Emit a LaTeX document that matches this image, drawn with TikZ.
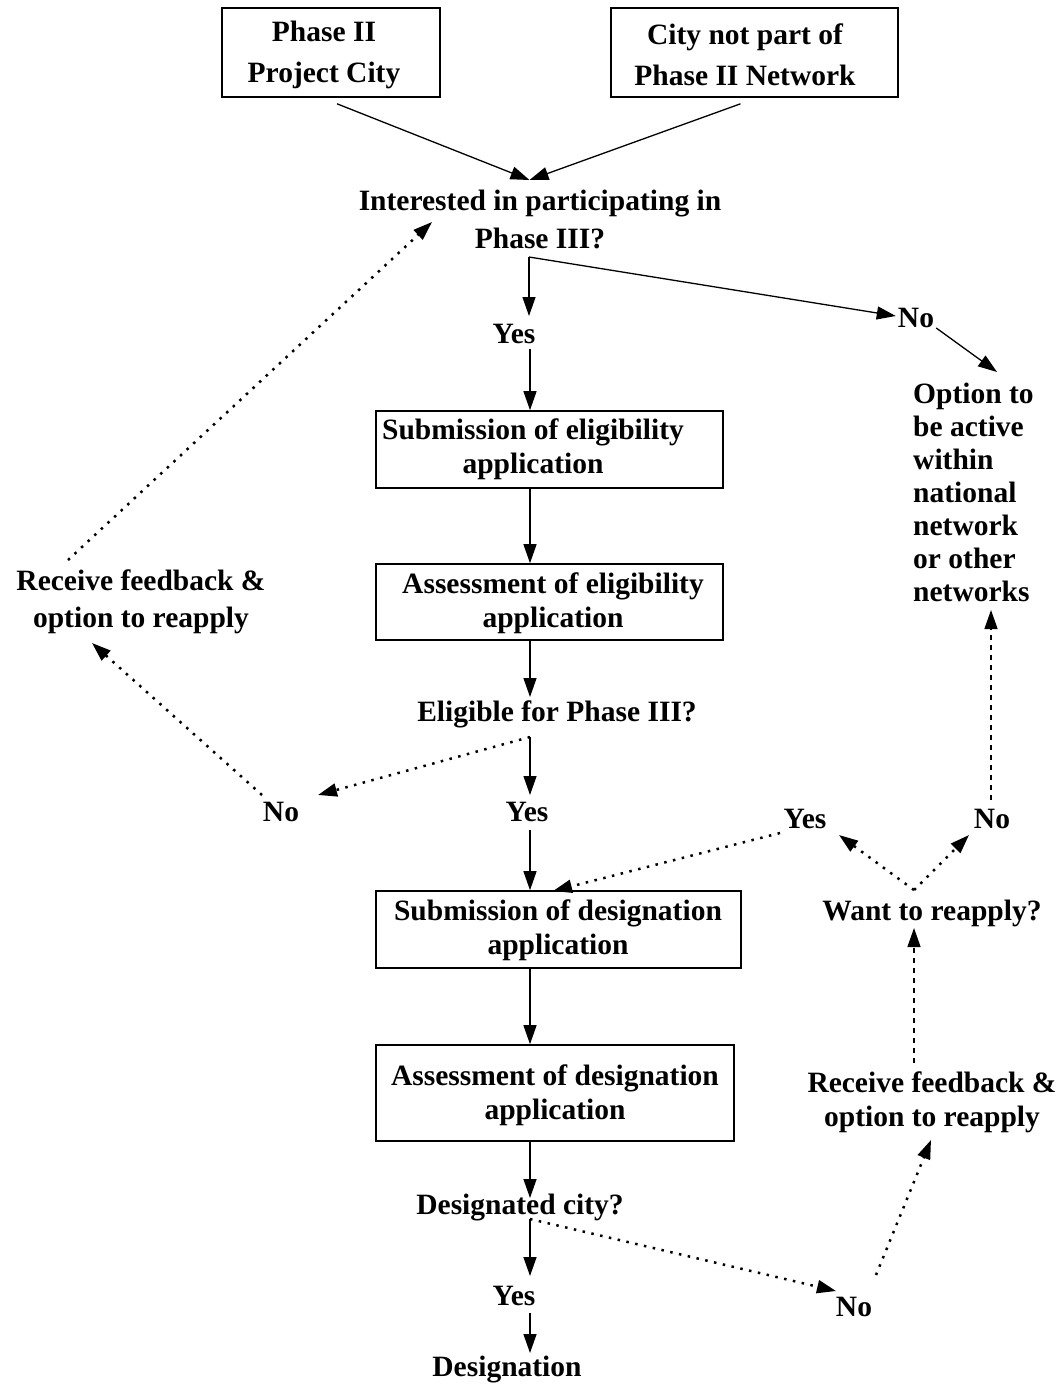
\documentclass[tikz,border=0pt]{standalone}
\usepackage{fontspec}
\setmainfont{Liberation Serif}
\usetikzlibrary{arrows.meta,calc}
\begin{document}
\begin{tikzpicture}[x=1pt,y=-1pt,
  tip/.style={-{Triangle[length=19pt,width=13pt]}},
  arr/.style={line width=1.3pt,tip},
  dotarr/.style={line width=2.5pt,dash pattern=on 2.5pt off 6.5pt,tip},
  dasharr/.style={line width=1.3pt,dash pattern=on 5pt off 5pt,tip},
  box/.style={draw,line width=1.6pt,inner sep=0pt,rectangle},
  txt/.style={inner sep=0pt,align=center,font=\fontsize{29.5}{34}\selectfont\bfseries},
]
\useasboundingbox (0,0) rectangle (1063,1386);
\fill[white] (0,0) rectangle (1063,1386);
\coordinate (mx) at (530,0);

% boxes
\node[box,minimum width=218pt,minimum height=89pt] (boxA) at (331,52.5) {};
\node[txt,font=\fontsize{29.5}{41}\selectfont\bfseries] (tA) at (324,55) {Phase II\\Project City};
\node[box,minimum width=287pt,minimum height=89pt] (boxB) at (754.5,52.5) {};
\node[txt,font=\fontsize{29.5}{41}\selectfont\bfseries] (tB) at (745,55) {City not part of\\Phase II Network};

\node[box,minimum width=347pt,minimum height=77pt] (box1) at (549.5,449.5) {};
\node[txt] (t1) at (533,449) {Submission of eligibility\\application};
\node[box,minimum width=347pt,minimum height=76pt] (box2) at (549.5,602) {};
\node[txt] (t2) at (553,603) {Assessment of eligibility\\application};
\node[box,minimum width=365pt,minimum height=77pt] (box3) at (558.5,929.5) {};
\node[txt] (t3) at (558,930) {Submission of designation\\application};
\node[box,minimum width=358pt,minimum height=96pt] (box4) at (555,1093) {};
\node[txt] (t4) at (555,1095) {Assessment of designation\\application};

% text nodes
\node[txt,font=\fontsize{29.5}{38}\selectfont\bfseries] (q1) at (540,219) {Interested in participating in\\Phase III?};
\node[txt] (yesA) at (514,334) {Yes};
\node[txt] (noA) at (916,318) {No};
\node[txt,align=left,anchor=west,font=\fontsize{29.5}{33}\selectfont\bfseries] (opt) at (913,492) {Option to\\be active\\within\\national\\network\\or other\\networks};
\node[txt,font=\fontsize{29.5}{37}\selectfont\bfseries] (recL) at (141,602) {Receive feedback \&\\option to reapply};
\node[txt] (elig) at (557,714) {Eligible for Phase III?};
\node[txt] (noB) at (281,812) {No};
\node[txt] (yesB) at (527,812) {Yes};
\node[txt] (yesC) at (805,819) {Yes};
\node[txt] (noC) at (992,819) {No};
\node[txt] (want) at (932,913) {Want to reapply?};
\node[txt] (recR) at (932,1102) {Receive feedback \&\\option to reapply};
\node[txt] (desq) at (520,1208) {Designated city?};
\node[txt] (yesD) at (514,1296) {Yes};
\node[txt] (noD) at (854,1307) {No};
\node[txt] (desig) at (507,1370) {Designation};

% junction coordinates
\coordinate (q1top) at (529.5,180);
\coordinate (j1) at (529,257);
\coordinate (j2) at (530,737);
\coordinate (j3) at (914,890);
\coordinate (j4) at (530,1219);

% solid connectors
\draw[arr] ($(boxA.south)+(6,6)$) -- (q1top);
\draw[arr] ($(boxB.south)+(-14,6)$) -- (q1top);
\draw[arr] (j1) -- (529,316) coordinate (yesAtip);
\draw[arr] (j1) -- ($(noA.west)+(-2,-2)$);
\draw[arr] ($(noA.south east)+(2,0)$) -- (997,372) coordinate (optTip);
\draw[arr] (yesA.south -| mx) ++(0,5) -- (box1.north -| mx);
\draw[arr] (box1.south -| mx) -- (box2.north -| mx);
\draw[arr] (box2.south -| mx) -- (530,697) coordinate (eligTip);
\draw[arr] (j2) -- (530,795) coordinate (yesBtip);
\draw[arr] (530,830) coordinate (yesBbot) -- (box3.north -| mx);
\draw[arr] (box3.south -| mx) -- (box4.north -| mx);
\draw[arr] (box4.south -| mx) -- (530,1198) coordinate (desqTip);
\draw[arr] (j4) -- (530,1276) coordinate (yesDtip);
\draw[arr] (530,1313) coordinate (yesDbot) -- (530,1353) coordinate (desigTip);

% dotted connectors
\draw[dotarr] (j2) -- (318,795) coordinate (noBtip);
\draw[dotarr] (262,795) coordinate (noBtop) -- (92,643) coordinate (recLtip);
\draw[dotarr] (68,560) coordinate (recLtop) -- (432,222) coordinate (q1tip);
\draw[dotarr] (780,833) coordinate (yesCleft) -- (553,891) coordinate (box3tip);
\draw[dotarr] (j3) -- (839,835) coordinate (yesCtip);
\draw[dotarr] (j3) -- (969,835) coordinate (noCtip);
\draw[dotarr] (j4) -- (836,1291) coordinate (noDtip);
\draw[dotarr] (876,1275) coordinate (noDtop) -- (931,1140) coordinate (recRtip);

% dashed connectors
\draw[dasharr] (991,800) coordinate (noCtop) -- (991,610) coordinate (optBot);
\draw[dasharr] (914,1063) coordinate (recRtop) -- (914,928) coordinate (wantTip);
\end{tikzpicture}
\end{document}
